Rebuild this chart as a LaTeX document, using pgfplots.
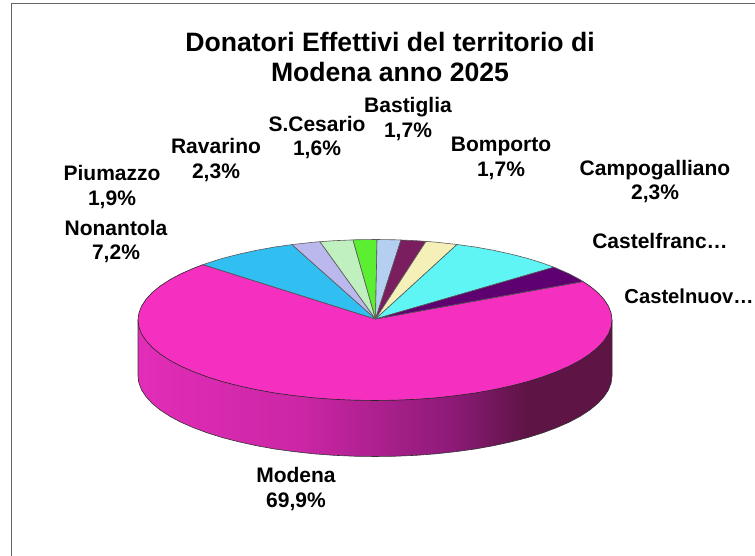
\documentclass[border=0pt]{standalone}
\usepackage{fontspec}
\setmainfont{Liberation Sans}
\usepackage{pgfplots}
\pgfplotsset{compat=1.18}

\definecolor{cModena}{HTML}{F530C0}
\definecolor{cNonantola}{HTML}{30BFF0}
\definecolor{cPiumazzo}{HTML}{BBB8EE}
\definecolor{cRavarino}{HTML}{C0F0C0}
\definecolor{cCesario}{HTML}{5CEE30}
\definecolor{cBastiglia}{HTML}{B4CFEF}
\definecolor{cBomporto}{HTML}{7A1E60}
\definecolor{cCampo}{HTML}{F4F0B8}
\definecolor{cFranco}{HTML}{60F5F5}
\definecolor{cNuovo}{HTML}{5F0070}
\definecolor{wallA}{HTML}{E22DB8}
\definecolor{wallB}{HTML}{CC26A6}
\definecolor{wallC}{HTML}{8E1A78}
\definecolor{wallD}{HTML}{5E1445}
\pgfdeclarehorizontalshading{wall}{100bp}{color(0bp)=(wallA); color(25bp)=(wallA); color(42bp)=(wallB); color(58bp)=(wallC); color(66bp)=(wallD); color(75bp)=(wallD); color(100bp)=(wallD)}

\tikzset{
  slice/.style={draw=black!65, line width=0.6pt, line join=round, mark=none},
  lab/.style={font=\fontsize{21}{24.8}\selectfont\bfseries, align=center, inner sep=0pt, anchor=center},
}

\begin{document}
\begin{tikzpicture}
\begin{axis}[
  name=ax,
  scale only axis, width=755pt, height=556pt,
  xmin=0, xmax=755, ymin=0, ymax=556, y dir=reverse,
  axis lines=none, clip=false,
]
% frame
\addplot[color=black!60, line width=0.9pt, mark=none] coordinates {(11.5,556) (11.5,3) (755,3)};
% side wall
\addplot[draw=black!80, line width=0.6pt, mark=none, shading=wall] coordinates {
 (612,320) (612,376) (611.1,383) (608.4,390) (603.9,396.8) (597.7,403.5) (589.8,410) (580.2,416.3) (569.1,422.2) (556.5,427.7)
 (542.6,432.9) (527.3,437.7) (510.9,441.9) (493.5,445.7) (475.2,449) (456.1,451.6) (436.3,453.8) (416.2,455.3) (395.7,456.2)
 (375,456.5) (354.3,456.2) (333.8,455.3) (313.7,453.8) (293.9,451.6) (274.8,449) (256.5,445.7) (239.1,441.9) (222.7,437.7)
 (207.4,432.9) (193.5,427.7) (180.9,422.2) (169.8,416.3) (160.2,410) (152.3,403.5) (146.1,396.8) (141.6,390) (138.9,383)
 (138,376) (138,320) (612,320)};
% Modena
\addplot[slice, fill=cModena, draw=black!85] coordinates {
 (375.5,319) (583,281.5) (589.8,286) (597.7,292.5) (603.9,299.2) (608.4,306) (611.1,313) (612,320)
 (611.1,327) (608.4,334) (603.9,340.8) (597.7,347.5) (589.8,354) (580.2,360.3) (569.1,366.2) (556.5,371.7)
 (542.6,376.9) (527.3,381.7) (510.9,385.9) (493.5,389.7) (475.2,393) (456.1,395.6) (436.3,397.8) (416.2,399.3) (395.7,400.2)
 (375,400.5) (354.3,400.2) (333.8,399.3) (313.7,397.8) (293.9,395.6) (274.8,393) (256.5,389.7) (239.1,385.9) (222.7,381.7)
 (207.4,376.9) (193.5,371.7) (180.9,366.2) (169.8,360.3) (160.2,354) (152.3,347.5) (146.1,340.8) (141.6,334) (138.9,327)
 (138,320) (138.9,313) (141.6,306) (146.1,299.2) (152.3,292.5) (160.2,286) (169.8,279.7) (180.9,273.8) (193.5,268.3) (203,264.6)
 (375.5,319)};
% Nonantola
\addplot[slice, fill=cNonantola] coordinates {(375.5,319) (203,264.6) (207.4,263.1) (222.7,258.3) (239.1,254.1) (256.5,250.3) (274.8,247) (292,244.6) (375.5,319)};
% Piumazzo
\addplot[slice, fill=cPiumazzo] coordinates {(375.5,319) (292,244.6) (293.9,244.4) (313.7,242.2) (320,241.7) (375.5,319)};
% Ravarino
\addplot[slice, fill=cRavarino] coordinates {(375.5,319) (320,241.7) (333.8,240.7) (353,239.9) (375.5,319)};
% S.Cesario
\addplot[slice, fill=cCesario] coordinates {(375.5,319) (353,239.9) (354.3,239.8) (375,239.5) (377,239.5) (375.5,319)};
% Bastiglia
\addplot[slice, fill=cBastiglia] coordinates {(375.5,319) (377,239.5) (395.7,239.8) (401,240) (375.5,319)};
% Bomporto
\addplot[slice, fill=cBomporto] coordinates {(375.5,319) (401,240) (416.2,240.7) (426,241.4) (375.5,319)};
% Campogalliano
\addplot[slice, fill=cCampo] coordinates {(375.5,319) (426,241.4) (436.3,242.2) (456.1,244.4) (457,244.5) (375.5,319)};
% Castelfranco
\addplot[slice, fill=cFranco] coordinates {(375.5,319) (457,244.5) (475.2,247) (493.5,250.3) (510.9,254.1) (527.3,258.3) (542.6,263.1) (554,267.2) (375.5,319)};
% Castelnuovo
\addplot[slice, fill=cNuovo] coordinates {(375.5,319) (554,267.2) (556.5,268.3) (569.1,273.8) (580.2,279.7) (583,281.5) (375.5,319)};

% title
\node[font=\fontsize{26.6}{30.5}\selectfont\bfseries, align=center, inner sep=0pt] at (axis cs:390,57) {Donatori Effettivi del territorio di\\Modena anno 2025};
% labels
\node[lab] at (axis cs:408,119) {Bastiglia\\1,7\%};
\node[lab] at (axis cs:317,137.5) {S.Cesario\\1,6\%};
\node[lab] at (axis cs:216,160) {Ravarino\\2,3\%};
\node[lab] at (axis cs:112,187) {Piumazzo\\1,9\%};
\node[lab] at (axis cs:116,241.5) {Nonantola\\7,2\%};
\node[lab] at (axis cs:501,158.5) {Bomporto\\1,7\%};
\node[lab] at (axis cs:655,181.5) {Campogalliano\\2,3\%};
\node[lab] at (axis cs:660,241) {Castelfranc…};
\node[lab, font=\fontsize{20.2}{24.8}\selectfont\bfseries] at (axis cs:689,296) {Castelnuov…};
\node[lab] at (axis cs:296,489) {Modena\\69,9\%};
\end{axis}
\pgfresetboundingbox
\path[use as bounding box] (ax.south west) rectangle (ax.north east);
\end{tikzpicture}
\end{document}
